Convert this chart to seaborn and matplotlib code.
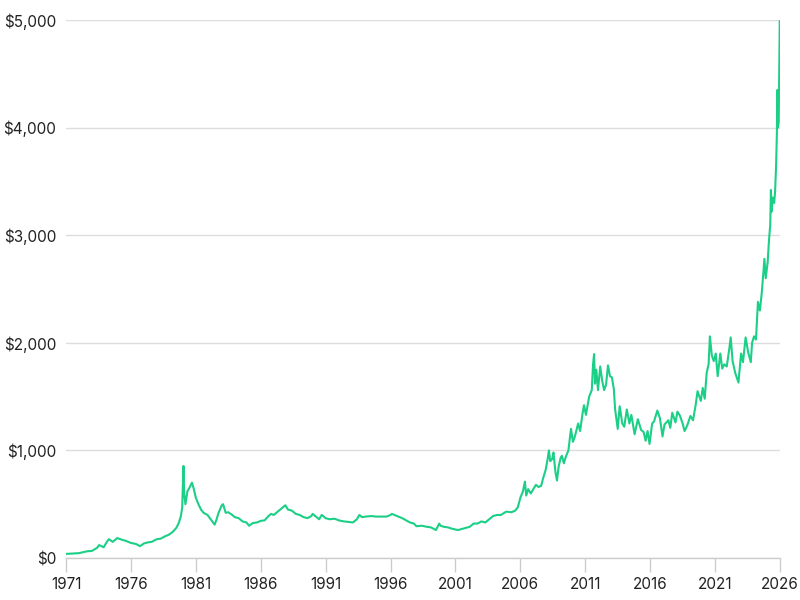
import numpy as np
import pandas as pd
import matplotlib
matplotlib.use("Agg")
import matplotlib.pyplot as plt
import seaborn as sns
from matplotlib.ticker import FuncFormatter

years = [1971.0, 1972.0, 1972.6, 1973.0, 1973.4, 1973.55, 1973.9, 1974.15, 1974.3, 1974.6, 1974.95,
         1975.3, 1975.6, 1976.0, 1976.4, 1976.7, 1977.0, 1977.3, 1977.6, 1978.0, 1978.3, 1978.6,
         1978.9, 1979.2, 1979.5, 1979.7, 1979.85, 1979.95, 1980.05, 1980.1, 1980.2, 1980.35,
         1980.5, 1980.7, 1980.85, 1981.0, 1981.2, 1981.4, 1981.6, 1981.9, 1982.2, 1982.45,
         1982.6, 1982.75, 1983.0, 1983.1, 1983.3, 1983.5, 1983.75, 1984.0, 1984.3, 1984.6,
         1984.9, 1985.1, 1985.4, 1985.7, 1986.0, 1986.3, 1986.6, 1986.8, 1987.0, 1987.3,
         1987.6, 1987.9, 1988.1, 1988.4, 1988.7, 1989.0, 1989.3, 1989.6, 1989.9, 1990.0,
         1990.3, 1990.5, 1990.7, 1991.0, 1991.3, 1991.7, 1992.0, 1992.4, 1992.8, 1993.1,
         1993.4, 1993.6, 1993.8, 1994.1, 1994.5, 1994.9, 1995.3, 1995.7, 1996.0, 1996.1,
         1996.5, 1996.9, 1997.2, 1997.5, 1997.8, 1998.0, 1998.4, 1998.8, 1999.1, 1999.5,
         1999.75, 1999.85, 2000.1, 2000.4, 2000.8, 2001.2, 2001.5, 2001.8, 2002.1, 2002.4,
         2002.7, 2003.0, 2003.3, 2003.6, 2003.9, 2004.2, 2004.5, 2004.9,
         2005.0, 2005.3, 2005.6, 2005.8, 2006.0, 2006.2, 2006.35, 2006.45, 2006.6, 2006.8,
         2007.0, 2007.2, 2007.4, 2007.6, 2007.75, 2007.95, 2008.1, 2008.2, 2008.3, 2008.45,
         2008.55, 2008.7, 2008.82, 2008.95, 2009.1, 2009.2, 2009.35, 2009.5, 2009.7, 2009.9,
         2010.05, 2010.2, 2010.45, 2010.6, 2010.8, 2010.9, 2011.05, 2011.3, 2011.5, 2011.6,
         2011.68, 2011.75, 2011.85, 2011.98, 2012.15, 2012.3, 2012.45, 2012.6, 2012.75, 2012.9,
         2013.05, 2013.2, 2013.3, 2013.5, 2013.65, 2013.85, 2014.0, 2014.2, 2014.4, 2014.55,
         2014.8, 2015.05, 2015.3, 2015.5, 2015.65, 2015.8, 2015.95, 2016.15, 2016.3, 2016.55,
         2016.75, 2016.95, 2017.1, 2017.4, 2017.55, 2017.7, 2017.95, 2018.1, 2018.3, 2018.5,
         2018.65, 2018.85, 2019.1, 2019.3, 2019.5, 2019.65, 2019.9, 2020.05, 2020.2, 2020.35,
         2020.5, 2020.6, 2020.75, 2020.9, 2021.05, 2021.2, 2021.4, 2021.55, 2021.7, 2021.9,
         2022.1, 2022.2, 2022.35, 2022.55, 2022.8, 2023.0, 2023.15, 2023.35, 2023.55, 2023.75,
         2023.85, 2024.0, 2024.15, 2024.3, 2024.45, 2024.6, 2024.8, 2024.9, 2025.05, 2025.15,
         2025.25, 2025.3, 2025.35, 2025.45, 2025.55, 2025.62, 2025.7, 2025.76, 2025.8, 2025.84,
         2025.9, 2025.95, 2025.98]

prices = [38, 45, 62, 66, 95, 120, 100, 150, 175, 150, 185,
          170, 160, 140, 130, 110, 135, 145, 150, 175, 180, 200,
          215, 240, 280, 330, 390, 470, 855, 600, 500, 620,
          650, 700, 640, 560, 500, 450, 420, 400, 350, 310,
          360, 420, 490, 500, 420, 425, 405, 380, 370, 340,
          330, 300, 325, 330, 345, 350, 390, 410, 400, 430,
          460, 490, 450, 440, 410, 400, 380, 370, 390, 410,
          380, 360, 400, 370, 360, 365, 350, 340, 335, 330,
          360, 400, 380, 385, 390, 385, 385, 385, 400, 410,
          390, 370, 350, 330, 320, 295, 300, 290, 285, 260,
          320, 300, 290, 285, 270, 260, 270, 280, 290, 320,
          320, 340, 330, 360, 390, 400, 400, 430,
          430, 425, 440, 470, 560, 620, 710, 580, 640, 600,
          640, 680, 660, 670, 740, 820, 920, 1000, 900, 920,
          980, 800, 720, 850, 930, 950, 880, 940, 1000, 1200,
          1080, 1130, 1250, 1180, 1350, 1420, 1330, 1500, 1560, 1800,
          1895, 1620, 1750, 1560, 1780, 1650, 1560, 1610, 1790, 1690,
          1680, 1570, 1380, 1200, 1410, 1250, 1220, 1380, 1250, 1330,
          1150, 1290, 1190, 1170, 1090, 1180, 1060, 1250, 1270, 1370,
          1300, 1130, 1240, 1280, 1210, 1350, 1260, 1360, 1320, 1250,
          1180, 1230, 1320, 1280, 1420, 1550, 1460, 1580, 1480, 1720,
          1800, 2060, 1880, 1830, 1900, 1690, 1900, 1760, 1800, 1780,
          1950, 2050, 1830, 1720, 1630, 1900, 1820, 2050, 1910, 1820,
          2000, 2060, 2030, 2380, 2300, 2470, 2780, 2600, 2750, 2950,
          3100, 3420, 3220, 3350, 3300, 3400, 3650, 3950, 4350, 4000,
          4050, 4600, 4990]

tick_years = [1971, 1976, 1981, 1986, 1991, 1996, 2001, 2006, 2011, 2016, 2021, 2026]
y_ticks = [0, 1000, 2000, 3000, 4000, 5000]

df = pd.DataFrame({"year": years, "price": prices})

sns.set_theme(style="white")
plt.rcParams["font.family"] = ["Inter", "DejaVu Sans"]

fig = plt.figure(figsize=(8, 6), dpi=100)
ax = fig.add_axes([0.0825, 0.07, 0.8925, 0.8967])

ax.set_axisbelow(True)
ax.yaxis.grid(True, color="#dddddd", linewidth=1.0)
ax.xaxis.grid(False)

sns.lineplot(data=df, x="year", y="price", ax=ax, color="#1ccf87", linewidth=1.5, estimator=None)

ax.set_xlim(1971, 2026)
ax.set_ylim(0, 5000)
ax.set_xticks(tick_years)
ax.set_xticklabels([str(t) for t in tick_years])
ax.set_yticks(y_ticks)
ax.yaxis.set_major_formatter(FuncFormatter(lambda v, p: f"${int(v):,}"))
ax.set_xlabel("")
ax.set_ylabel("")

for s in ["top", "right", "left"]:
    ax.spines[s].set_visible(False)
ax.spines["bottom"].set_color("#cccccc")
ax.spines["bottom"].set_linewidth(1.0)

ax.tick_params(axis="x", which="major", length=10, width=1, color="#cccccc",
               labelsize=11, labelcolor="#222222", pad=4, direction="out", bottom=True)
ax.tick_params(axis="y", which="major", length=0, labelsize=11, labelcolor="#222222", pad=7)

fig.savefig("out.png", dpi=100, facecolor="white")
